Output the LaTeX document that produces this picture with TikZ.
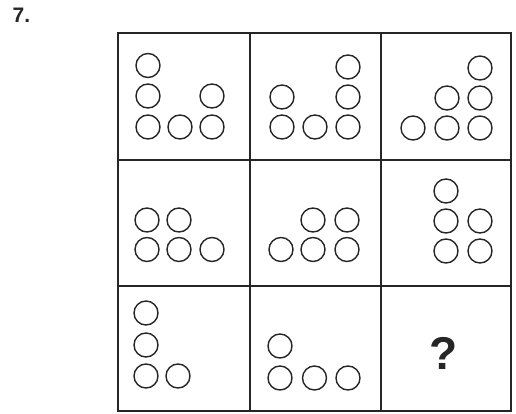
\documentclass[tikz,border=0pt]{standalone}
\usepackage{fontspec}
\setmainfont{Liberation Sans}

\begin{document}
\begin{tikzpicture}[
    x=1pt, y=-1pt,
    % Style for the lines of the grid
    gridline/.style={
        draw=black!85,
        line width=1.3pt,
        line cap=rect
    },
    % Style for the circles inside the cells
    ball/.style={
        circle,
        draw=black!85,
        fill=none,
        line width=1.4pt,
        inner sep=0pt,
        minimum size=24pt
    },
    % Style for the number and the question mark
    bigtext/.style={
        font=\bfseries\fontsize{#1}{#1}\selectfont,
        text=black!85,
        inner sep=0pt
    }
]

    % --- PAGE SIZE ---
    \useasboundingbox (0,0) rectangle (516,414);

    % --- NUMBER OF THE TASK ---
    \node[bigtext=21, anchor=base west] (num) at (12.5,22.5) {7.};

    % --- GRID (3 x 3 cells) ---
    \foreach \x in {118,250,381,511}
        \draw[gridline] (\x,33) -- (\x,411);
    \foreach \y in {33,160,286,411}
        \draw[gridline] (118,\y) -- (511,\y);

    % --- ROW 1 ---
    \foreach \x/\y [count=\i] in {148/65.5, 148/96, 148/127, 180/127, 212/96, 212/127}
        \node[ball] (a\i) at (\x,\y) {};
    \foreach \x/\y [count=\i] in {282/97, 282/127, 315/127, 348/67, 348/97, 348/127}
        \node[ball] (b\i) at (\x,\y) {};
    \foreach \x/\y [count=\i] in {413/128, 447/98, 447/128, 480/68, 480/98, 480/128}
        \node[ball] (c\i) at (\x,\y) {};

    % --- ROW 2 ---
    \foreach \x/\y [count=\i] in {147/220, 179/220, 147/249.5, 179/249.5, 212/249.5}
        \node[ball] (d\i) at (\x,\y) {};
    \foreach \x/\y [count=\i] in {313/220, 347/220, 281/249.5, 313/249.5, 347/249.5}
        \node[ball] (e\i) at (\x,\y) {};
    \foreach \x/\y [count=\i] in {446/191, 446/221, 446/251, 480/221, 480/251}
        \node[ball] (f\i) at (\x,\y) {};

    % --- ROW 3 ---
    \foreach \x/\y [count=\i] in {146/313, 146/345, 146/376, 178/376}
        \node[ball] (g\i) at (\x,\y) {};
    \foreach \x/\y [count=\i] in {280/346, 280/378, 314.5/378, 348/378}
        \node[ball] (h\i) at (\x,\y) {};

    % --- MISSING CELL ---
    \node[bigtext=46, anchor=base] (ask) at (444,369) {?};

\end{tikzpicture}
\end{document}
